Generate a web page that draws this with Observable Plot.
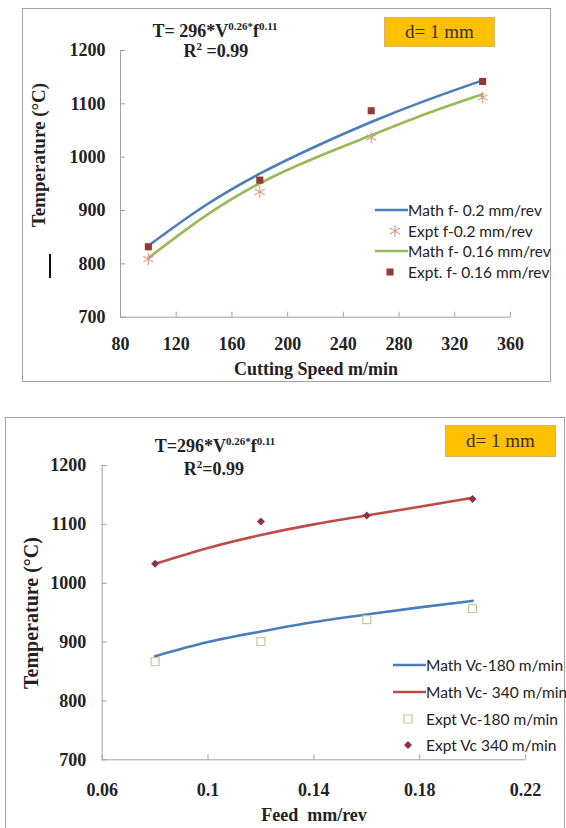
<!DOCTYPE html>
<html>
<head>
<meta charset="utf-8">
<script src="https://cdn.jsdelivr.net/npm/d3@7"></script>
<script src="https://cdn.jsdelivr.net/npm/@observablehq/plot@0.6"></script>
<style>
  html, body { margin: 0; padding: 0; background: #fff; }
  body { width: 566px; height: 828px; overflow: hidden; position: relative; }
  .frame { position: absolute; border: 1.5px solid #a3a3a3; box-sizing: border-box; }
  .plotwrap { position: absolute; left: 0; }
  .t { position: absolute; font-family: "Liberation Serif", "Times New Roman", serif; font-weight: bold;
       color: #222; white-space: nowrap; line-height: 1; }
  .t .sp { font-size: 11px; position: relative; top: -7px; }
  .ctr { transform: translateX(-50%); }
  .ylab { transform: translate(-50%, -50%) rotate(-90deg); font-size: 19px; }
  .dbox { position: absolute; background: #FFC000; border: 1px solid #d6b56a; box-sizing: border-box;
          font-family: "Liberation Serif", serif; font-size: 19px; color: #333;
          display: flex; align-items: center; justify-content: center; }
  .legend { position: absolute; font-family: Lato, "Open Sans", sans-serif; color: #222; white-space: nowrap; }
  .legend .row { display: flex; align-items: center; white-space: nowrap; }
  .legend svg { flex: none; display: block; }
  .bar { position: absolute; background: #111; }
</style>
</head>
<body>
<div class="frame" style="left:22px; top:8px; width:529px; height:374px;"></div>
<div class="frame" style="left:5px; top:417px; width:560px; height:430px;"></div>
<div class="bar" style="left:49px; top:254px; width:2px; height:24px;"></div>

<div id="top" class="plotwrap" style="top:0px;"></div>
<div id="bottom" class="plotwrap" style="top:400px;"></div>

<!-- top chart texts -->
<div class="t ctr" style="left:215px; top:22px; font-size:18px;">T= 296*V<span class="sp">0.26</span><span class="sp">*</span>f<span class="sp">0.11</span></div>
<div class="t ctr" style="left:216px; top:42px; font-size:18px;">R<span class="sp">2</span> =0.99</div>
<div class="dbox" style="left:384px; top:17px; width:111px; height:30px;">d= 1 mm</div>
<div class="t ylab" style="left:38px; top:155px;">Temperature (°C)</div>
<div class="t ctr" style="left:316px; top:360px; font-size:18px;">Cutting Speed m/min</div>
<div id="legTop" class="legend" style="left:375px; top:200px; font-size:15.5px;"></div>

<!-- bottom chart texts -->
<div class="t ctr" style="left:215px; top:437px; font-size:18px;">T=296*V<span class="sp">0.26</span><span class="sp">*</span>f<span class="sp">0.11</span></div>
<div class="t ctr" style="left:214px; top:460px; font-size:18px;">R<span class="sp">2</span>=0.99</div>
<div class="dbox" style="left:445px; top:425px; width:111px; height:32px;">d= 1 mm</div>
<div class="t ylab" style="left:31px; top:613px; font-size:20px;">Temperature (°C)</div>
<div class="t ctr" style="left:314px; top:806px; font-size:18px;">Feed&nbsp; mm/rev</div>
<div id="legBottom" class="legend" style="left:393px; top:652px; font-size:15.5px;"></div>

<script>
// ---------- data: top chart (temperature vs cutting speed) ----------
const speedTicks = [80, 120, 160, 200, 240, 280, 320, 360];
const tempTicksTop = [700, 800, 900, 1000, 1100, 1200];
const speedGrid = [100, 140, 180, 220, 260, 300, 340];
const mathF020 = [834, 908, 969, 1020, 1066, 1107, 1144];
const mathF016 = [811, 888, 951, 999, 1041, 1082, 1118];
const exptSpeeds = [100, 180, 260, 340];
const exptF020 = [809, 935, 1037, 1112];
const exptF016 = [832, 957, 1087, 1142];

// ---------- data: bottom chart (temperature vs feed) ----------
const feedTicks = [0.06, 0.10, 0.14, 0.18, 0.22];
const tempTicksBottom = [700, 800, 900, 1000, 1100, 1200];
const feedGrid = [0.08, 0.10, 0.12, 0.14, 0.16, 0.18, 0.20];
const mathVc180 = [876, 900, 918, 934, 947, 959, 970];
const mathVc340 = [1033, 1060, 1082, 1100, 1115, 1130, 1145];
const exptFeeds = [0.08, 0.12, 0.16, 0.20];
const exptVc180 = [867, 901, 938, 957];
const exptVc340 = [1033, 1105, 1115, 1143];

// ---------- styles ----------
const C = {
  blue: "#4A7EBB", green: "#98B954", red: "#BE4B48",
  sq: "#953735", star: "#d6a08f", hollow: "#c5c89c", diamond: "#8e3348",
  axis: "#a0a0a0"
};

const rows = (xs, ys) => xs.map((x, i) => ({x, y: ys[i]}));
const fmtInt = d3.format("d");

function axes(xTicks, yTicks, xFmt, xPad, yPad) {
  return [
    Plot.ruleY([yTicks[0]], {stroke: C.axis, strokeWidth: 1}),
    Plot.ruleX([xTicks[0]], {stroke: C.axis, strokeWidth: 1}),
    Plot.axisX(xTicks, {tickSize: -5, tickFormat: () => "", stroke: C.axis, label: null}),
    Plot.axisY(yTicks, {tickSize: -5, tickFormat: () => "", stroke: C.axis, label: null}),
    Plot.axisX(xTicks, {tickSize: 0, tickPadding: xPad, tickFormat: xFmt, label: null, fill: "#222"}),
    Plot.axisY(yTicks, {tickSize: 0, tickPadding: yPad, tickFormat: fmtInt, label: null, fill: "#222"})
  ];
}

const baseStyle = {
  fontFamily: "'Liberation Serif', 'Times New Roman', serif",
  fontWeight: "bold", fontSize: "18px", background: "transparent", overflow: "visible"
};

// ---------- top plot ----------
const topPlot = Plot.plot({
  width: 566, height: 400,
  marginLeft: 120, marginRight: 56, marginTop: 50, marginBottom: 83.3,
  x: {domain: [speedTicks[0], speedTicks[speedTicks.length - 1]]},
  y: {domain: [tempTicksTop[0], tempTicksTop[tempTicksTop.length - 1]]},
  style: baseStyle,
  marks: [
    ...axes(speedTicks, tempTicksTop, fmtInt, 20, 15),
    Plot.line(rows(speedGrid, mathF016), {x: "x", y: "y", stroke: C.green, strokeWidth: 2.6, curve: "natural"}),
    Plot.line(rows(speedGrid, mathF020), {x: "x", y: "y", stroke: C.blue, strokeWidth: 2.6, curve: "natural"}),
    Plot.dot(rows(exptSpeeds, exptF020), {x: "x", y: "y", symbol: "asterisk", r: 5.5, stroke: C.star, strokeWidth: 1.2}),
    Plot.dot(rows(exptSpeeds, exptF016), {x: "x", y: "y", symbol: "square", r: 4, fill: C.sq, stroke: null})
  ]
});
document.getElementById("top").append(topPlot);

// ---------- bottom plot ----------
const bottomPlot = Plot.plot({
  width: 566, height: 428,
  marginLeft: 101.7, marginRight: 41, marginTop: 65, marginBottom: 68.7,
  x: {domain: [feedTicks[0], feedTicks[feedTicks.length - 1]]},
  y: {domain: [tempTicksBottom[0], tempTicksBottom[tempTicksBottom.length - 1]]},
  style: baseStyle,
  marks: [
    ...axes(feedTicks, tempTicksBottom, d => String(+d.toFixed(2)), 23, 16),
    Plot.line(rows(feedGrid, mathVc180), {x: "x", y: "y", stroke: C.blue, strokeWidth: 2.6, curve: "natural"}),
    Plot.line(rows(feedGrid, mathVc340), {x: "x", y: "y", stroke: C.red, strokeWidth: 2.6, curve: "natural"}),
    Plot.dot(rows(exptFeeds, exptVc180), {x: "x", y: "y", symbol: "square", r: 4.5, fill: "white", stroke: C.hollow, strokeWidth: 1.2}),
    Plot.dot(rows(exptFeeds, exptVc340), {x: "x", y: "y", symbol: "diamond2", r: 3.6, fill: C.diamond, stroke: null})
  ]
});
document.getElementById("bottom").append(bottomPlot);

// ---------- legends ----------
function glyph(kind, color, cx) {
  const w = 33, h = 12, cy = 6;
  if (kind === "line") return `<svg width="${w}" height="${h}"><line x1="0" x2="${w}" y1="${cy}" y2="${cy}" stroke="${color}" stroke-width="2.6"/></svg>`;
  const sym = {square: d3.symbolSquare, asterisk: d3.symbolAsterisk, diamond2: d3.symbolDiamond2}[kind.name];
  const p = d3.symbol(sym, Math.PI * kind.r * kind.r)();
  const paint = kind.hollow ? `fill="white" stroke="${color}" stroke-width="1.2"` :
                kind.name === "asterisk" ? `fill="none" stroke="${color}" stroke-width="1.2"` : `fill="${color}"`;
  return `<svg width="${w}" height="${h}"><path transform="translate(${cx},${cy})" d="${p}" ${paint}/></svg>`;
}
function legend(el, items, rowH) {
  el.innerHTML = items.map(it =>
    `<div class="row" style="height:${rowH}px">${glyph(it.kind, it.color, it.cx)}<span>${it.label}</span></div>`).join("");
}
legend(document.getElementById("legTop"), [
  {kind: "line", color: C.blue, label: "Math f- 0.2 mm/rev"},
  {kind: {name: "asterisk", r: 5.5}, color: C.star, cx: 20, label: "Expt f-0.2 mm/rev"},
  {kind: "line", color: C.green, label: "Math f- 0.16 mm/rev"},
  {kind: {name: "square", r: 4}, color: C.sq, cx: 15, label: "Expt. f- 0.16 mm/rev"}
], 20.6);
legend(document.getElementById("legBottom"), [
  {kind: "line", color: C.blue, label: "Math Vc-180 m/min"},
  {kind: "line", color: C.red, label: "Math Vc- 340 m/min"},
  {kind: {name: "square", r: 4.5, hollow: true}, color: C.hollow, cx: 15, label: "Expt Vc-180 m/min"},
  {kind: {name: "diamond2", r: 3.6}, color: C.diamond, cx: 15, label: "Expt Vc 340 m/min"}
], 26.7);
</script>
</body>
</html>
